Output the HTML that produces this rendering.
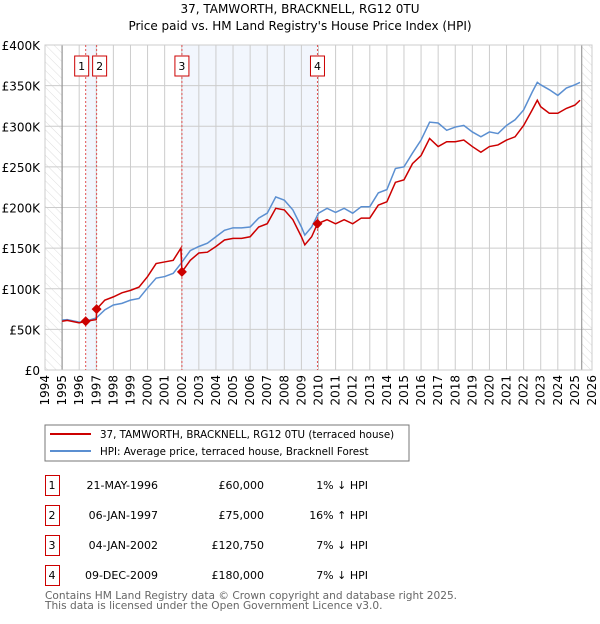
<!DOCTYPE html>
<html><head><meta charset="utf-8">
<style>
body{margin:0;background:#fff;width:600px;height:620px;overflow:hidden;font-family:"DejaVu Sans","Liberation Sans",sans-serif;}
svg text{font-family:"DejaVu Sans","Liberation Sans",sans-serif;}
</style></head>
<body>
<svg id="c" width="600" height="620" xmlns="http://www.w3.org/2000/svg">
<defs>
<pattern id="hatch" width="6" height="6" patternUnits="userSpaceOnUse" patternTransform="rotate(-45)">
<line x1="0" y1="0" x2="0" y2="6" stroke="#d4d4d4" stroke-width="0.8"/>
</pattern>
</defs>
<text x="300" y="13" text-anchor="middle" font-size="12">37, TAMWORTH, BRACKNELL, RG12 0TU</text>
<text x="300" y="30" text-anchor="middle" font-size="12">Price paid vs. HM Land Registry's House Price Index (HPI)</text>
<g id="plot"></g>
<g>
<rect x="45" y="425" width="364" height="36" fill="#fff" stroke="#777" stroke-width="1"/>
<line x1="50" y1="434" x2="91" y2="434" stroke="#cc0000" stroke-width="2"/>
<text x="100" y="438" font-size="10.3">37, TAMWORTH, BRACKNELL, RG12 0TU (terraced house)</text>
<line x1="50" y1="451" x2="91" y2="451" stroke="#5b8fd1" stroke-width="2"/>
<text x="100" y="455" font-size="10.3">HPI: Average price, terraced house, Bracknell Forest</text>
</g>
<g id="table" font-size="11"></g>
<text x="45" y="599" font-size="10.6" fill="#666">Contains HM Land Registry data © Crown copyright and database right 2025.</text>
<text x="45" y="609" font-size="10.6" fill="#666">This data is licensed under the Open Government Licence v3.0.</text>
</svg>
<script>
const years=[1995,1995.3,1996,1996.38,1997,1997.5,1998,1998.5,1999,1999.5,2000,2000.5,2001,2001.5,2001.95,2002.5,2003,2003.5,2004,2004.5,2005,2005.5,2006,2006.5,2007,2007.5,2008,2008.5,2009,2009.2,2009.6,2010,2010.5,2011,2011.5,2012,2012.5,2013,2013.5,2014,2014.5,2015,2015.5,2016,2016.5,2017,2017.5,2018,2018.5,2019,2019.5,2020,2020.5,2021,2021.5,2022,2022.5,2022.8,2023,2023.5,2024,2024.5,2025,2025.3];
const hpi=[61.5,62,59,60,64,74,80,82,86,88,101,113,115,119,131,147,152,156,164,172,175,175,176,187,193,213,209,197,176,166,176,193,199,194,199,193,201,201,218,222,248,250,267,283,305,304,295,299,301,293,287,293,291,301,308,320,342,354,351,345,338,347,351,354];
const propYears=[1995,1995.3,1996,1996.38,1997,1997.02,1997.5,1998,1998.5,1999,1999.5,2000,2000.5,2001,2001.5,2001.95,2002.01,2002.5,2003,2003.5,2004,2004.5,2005,2005.5,2006,2006.5,2007,2007.5,2008,2008.5,2009,2009.2,2009.6,2009.94,2010.5,2011,2011.5,2012,2012.5,2013,2013.5,2014,2014.5,2015,2015.5,2016,2016.5,2017,2017.5,2018,2018.5,2019,2019.5,2020,2020.5,2021,2021.5,2022,2022.5,2022.8,2023,2023.5,2024,2024.5,2025,2025.3];
const propVals=[60,61,58,60,62,75,86,90,95,98,102,115,131,133,135,150,120.75,135,144,145,152,160,162,162,164,176,180,199,197,185,164,154,164,180,185,180,185,180,187,187,203,207,231,234,254,264,285,275,281,281,283,275,268,275,277,283,287,301,320,332,324,316,316,322,326,332];
const saleLabels=["1","2","3","4"];
const saleYears=[1996.38,1997.02,2002.01,2009.94];
const salePrices=[60,75,120.75,180];
const saleDates=["21-MAY-1996","06-JAN-1997","04-JAN-2002","09-DEC-2009"];
const salePriceText=["£60,000","£75,000","£120,750","£180,000"];
const saleHpiText=["1% ↓ HPI","16% ↑ HPI","7% ↓ HPI","7% ↓ HPI"];
const yTicks=[0,50,100,150,200,250,300,350,400];
const yTickLabels=["£0","£50K","£100K","£150K","£200K","£250K","£300K","£350K","£400K"];
const xTicks=[1994,1995,1996,1997,1998,1999,2000,2001,2002,2003,2004,2005,2006,2007,2008,2009,2010,2011,2012,2013,2014,2015,2016,2017,2018,2019,2020,2021,2022,2023,2024,2025,2026];

const NS="http://www.w3.org/2000/svg";
const X0=45,X1=592,Y0=370,Y1=45;
const xs=y=>X0+(y-1994)/(2026-1994)*(X1-X0);
const ys=v=>Y0-v/400*(Y0-Y1);
const plot=document.getElementById('plot');
function mk(tag,attrs,parent){const e=document.createElementNS(NS,tag);for(const k in attrs)e.setAttribute(k,attrs[k]);(parent||plot).appendChild(e);return e;}

mk('rect',{x:X0,y:Y1,width:X1-X0,height:Y0-Y1,fill:'#fff'});
for(const [a,b] of [[0,1],[2,3]]){
 const r=mk('rect',{x:xs(saleYears[a]),y:Y1,width:xs(saleYears[b])-xs(saleYears[a]),height:Y0-Y1,fill:'#f2f6fd'});
 
 
}
let h=mk('rect',{x:X0,y:Y1,width:xs(1995)-X0,height:Y0-Y1,fill:'url(#hatch)'});


h=mk('rect',{x:xs(2025.4),y:Y1,width:X1-xs(2025.4),height:Y0-Y1,fill:'url(#hatch)'});


xTicks.forEach(t=>{const l=mk('line',{x1:xs(t),x2:xs(t),y1:Y1,y2:Y0,stroke:'#ccc','stroke-width':1});
 
 
 const tx=mk('text',{x:0,y:0,'font-size':12,'text-anchor':'end',transform:`translate(${xs(t)+4},${Y0+5}) rotate(-90)`});
 tx.textContent=t;
 
 
});
yTicks.forEach((t,i)=>{const l=mk('line',{x1:X0,x2:X1,y1:ys(t),y2:ys(t),stroke:'#ccc','stroke-width':1});
 
 
 const tx=mk('text',{x:X0-5,y:ys(t)+5,'font-size':12,'text-anchor':'end'});
 tx.textContent=yTickLabels[i];
 
 
});
mk('line',{x1:xs(1995),x2:xs(1995),y1:Y1,y2:Y0,stroke:'#888','stroke-width':1});
mk('line',{x1:xs(2025.4),x2:xs(2025.4),y1:Y1,y2:Y0,stroke:'#888','stroke-width':1});
mk('rect',{x:X0,y:Y1,width:X1-X0,height:Y0-Y1,fill:'none',stroke:'#ccc'});
saleYears.forEach(s=>{const l=mk('line',{x1:xs(s),x2:xs(s),y1:Y1,y2:Y0,stroke:'#e05050','stroke-width':1,'stroke-dasharray':'2,2'});
 
 });
let p=mk('polyline',{points:years.map((y,i)=>xs(y)+','+ys(hpi[i])).join(' '),fill:'none',stroke:'#5b8fd1','stroke-width':1.5});


p=mk('polyline',{points:propYears.map((y,i)=>xs(y)+','+ys(propVals[i])).join(' '),fill:'none',stroke:'#cc0000','stroke-width':1.5});


saleYears.forEach((s,i)=>{
 const cx=xs(s),cy=ys(salePrices[i]);
 const d=mk('path',{d:`M${cx},${cy-5}L${cx+5},${cy}L${cx},${cy+5}L${cx-5},${cy}Z`,fill:'#cc0000'});
 
 
 const bx=i==0?cx-11:(i==1?cx-4:cx-7);
 const b=mk('rect',{x:bx,y:56,width:14,height:20,fill:'#fff',stroke:'#cc0000','stroke-width':1});
 
 
 const t=mk('text',{x:bx+7,y:70,'font-size':11,'text-anchor':'middle'});
 t.textContent=saleLabels[i];
 
 
});
const tb=document.getElementById('table');
saleLabels.forEach((l,i)=>{
 const y0=475+i*30;
 const r=mk('rect',{x:45.5,y:y0+0.5,width:14,height:20,fill:'#fff',stroke:'#cc0000'},tb);
 
 
 const cells=[[52,l,'middle'],[158,saleDates[i],'end'],[264,salePriceText[i],'end'],[368,saleHpiText[i],'end']];
 cells.forEach((c,j)=>{const t=mk('text',{x:c[0],y:y0+14,'text-anchor':c[2],'font-size':11},tb);
  t.textContent=c[1];
  
  });
});
</script>
</body></html>
